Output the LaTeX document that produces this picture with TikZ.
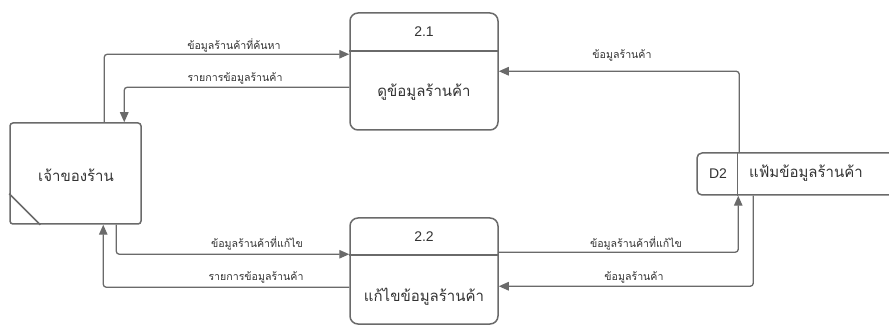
\documentclass[tikz,border=0pt]{standalone}
\usepackage{fontspec}
\setmainfont{Liberation Sans}
\newfontfamily\thaifont[Script=Thai]{Loma}
\usetikzlibrary{arrows.meta,calc}
\definecolor{lc}{HTML}{6A6A6A}
\definecolor{tc}{HTML}{333333}
\tikzset{
  boxline/.style={draw=lc, line width=1.5pt},
  flow/.style={draw=lc, line width=1.3pt, rounded corners=3pt, -{Triangle[length=10pt,width=8.5pt]}},
  lbl/.style={text=tc, font=\thaifont\fontsize{10.6}{12}\selectfont, inner sep=0pt},
  big/.style={text=tc, font=\thaifont\fontsize{15}{18}\selectfont, inner sep=0pt},
  num/.style={text=tc, font=\fontsize{14}{16}\selectfont, inner sep=0pt}
}
\begin{document}
\begin{tikzpicture}[x=1pt,y=-1pt]
\useasboundingbox (0,0) rectangle (889,331);
% entity
\node[boxline, rounded corners=3pt, minimum width=131pt, minimum height=101pt, inner sep=0pt] (ent) at (75.5,173.5) {};
\node[big] (entt) at (76,175) {เจ้าของร้าน};
\draw[boxline] ($(ent.south west)+(0,-31)$) -- ($(ent.south west)+(31,0)$);
% process 2.1
\node[boxline, rounded corners=8pt, minimum width=148pt, minimum height=117pt, inner sep=0pt] (p1) at (424,71.5) {};
\draw[boxline] ($(p1.north west)+(0,39)$) -- ($(p1.north east)+(0,39)$);
\node[num] (p1n) at (424,32) {2.1};
\node[big] (p1t) at (424,92) {ดูข้อมูลร้านค้า};
% process 2.2
\node[boxline, rounded corners=8pt, minimum width=148pt, minimum height=106pt, inner sep=0pt] (p2) at (424,271) {};
\draw[boxline] ($(p2.north west)+(0,38)$) -- ($(p2.north east)+(0,38)$);
\node[num] (p2n) at (424,237) {2.2};
\node[big] (p2t) at (424,297) {แก้ไขข้อมูลร้านค้า};
% data store
\node[boxline, rounded corners=5pt, minimum width=220pt, minimum height=42pt, inner sep=0pt] (st) at (807,174) {};
\draw[boxline] ($(st.north west)+(41,0)$) -- ($(st.south west)+(41,0)$);
\node[num] (stn) at (718,174) {D2};
\node[big] (stt) at (806,173) {แฟ้มข้อมูลร้านค้า};
% flows
\draw[flow] ($(ent.north west)+(95,0)$) |- ($(p1.north west)+(0,42)$);
\draw[flow] ($(p1.north west)+(0,75)$) -| ($(ent.north west)+(115,0)$);
\draw[flow] ($(st.north west)+(43,0)$) |- ($(p1.north east)+(0,59)$);
\draw[flow] ($(ent.south west)+(107,0)$) |- ($(p2.north west)+(0,37)$);
\draw[flow] ($(p2.north west)+(0,70)$) -| ($(ent.south west)+(94,0)$);
\draw[flow] ($(p2.north east)+(0,35)$) -| ($(st.south west)+(42,0)$);
\draw[flow] ($(st.south west)+(57,0)$) |- ($(p2.north east)+(0,69)$);
% labels
\node[lbl] (l1) at (234,45) {ข้อมูลร้านค้าที่ค้นหา};
\node[lbl] (l2) at (235,78) {รายการข้อมูลร้านค้า};
\node[lbl] (l3) at (622,55) {ข้อมูลร้านค้า};
\node[lbl] (l4) at (257,243) {ข้อมูลร้านค้าที่แก้ไข};
\node[lbl] (l5) at (256,277) {รายการข้อมูลร้านค้า};
\node[lbl] (l6) at (636,243) {ข้อมูลร้านค้าที่แก้ไข};
\node[lbl] (l7) at (634,277) {ข้อมูลร้านค้า};
\end{tikzpicture}
\end{document}
